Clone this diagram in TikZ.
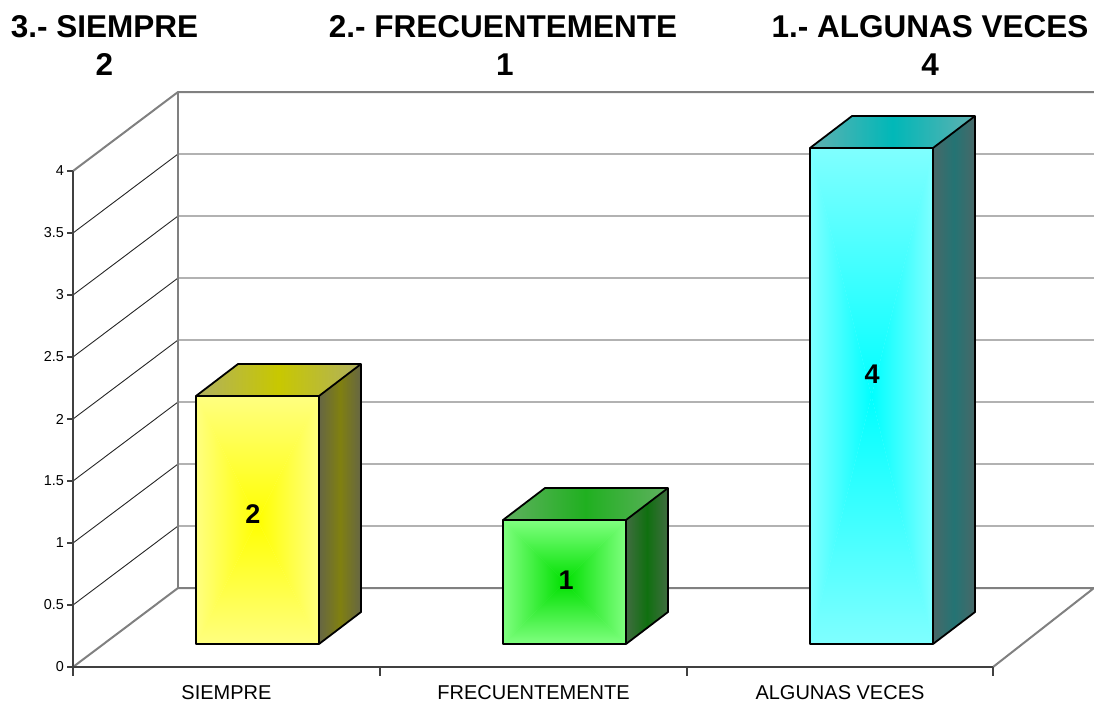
\documentclass[tikz,border=0pt]{standalone}
\usepackage{fontspec}
\setmainfont{Liberation Sans}

\definecolor{amFo}{RGB}{255,255,128}
\definecolor{amFi}{RGB}{255,255,0}
\definecolor{amTo}{RGB}{176,176,96}
\definecolor{amTi}{RGB}{200,200,0}
\definecolor{amSo}{RGB}{102,102,68}
\definecolor{amSi}{RGB}{128,128,16}
\definecolor{veFo}{RGB}{128,255,128}
\definecolor{veFi}{RGB}{0,224,0}
\definecolor{veTo}{RGB}{96,176,96}
\definecolor{veTi}{RGB}{32,176,32}
\definecolor{veSo}{RGB}{64,108,64}
\definecolor{veSi}{RGB}{16,112,16}
\definecolor{ciFo}{RGB}{128,255,255}
\definecolor{ciFi}{RGB}{0,255,255}
\definecolor{ciTo}{RGB}{96,176,176}
\definecolor{ciTi}{RGB}{0,184,184}
\definecolor{ciSo}{RGB}{72,104,104}
\definecolor{ciSi}{RGB}{36,116,116}

\begin{document}
\begin{tikzpicture}[x=1pt, y=-1pt, line join=round]
  \tikzstyle{wall}=[draw=gray, line width=2pt]
  \tikzstyle{gridline}=[draw=black!85, line width=0.9pt]
  \tikzstyle{axis}=[draw=black!75, line width=2pt]
  \tikzstyle{barline}=[draw=black, line width=1.8pt]
  \tikzstyle{title}=[inner sep=0pt, anchor=base, font=\fontsize{31.5}{38}\selectfont\bfseries]
  \tikzstyle{vlab}=[inner sep=0pt, font=\fontsize{27}{32}\selectfont\bfseries]
  \tikzstyle{ylab}=[inner sep=0pt, anchor=east, font=\fontsize{14.4}{17}\selectfont]
  \tikzstyle{xlab}=[inner sep=0pt, anchor=base, font=\fontsize{20}{24}\selectfont]

  \useasboundingbox (0,0) rectangle (1094,702);

  % walls and grid
  \foreach \k in {1,...,7}
    \draw[gridline] (73,{667-62*\k}) -- (178,{588-62*\k}) -- (1094,{588-62*\k});
  \draw[wall] (73,171) -- (178,92) -- (1094,92);
  \draw[wall] (178,92) -- (178,588);
  \draw[wall] (73,667) -- (178,588) -- (1094,588) -- (993,667);

  % axes
  \draw[axis] (73,171) -- (73,667) -- (993,667);
  \foreach \k/\t in {0/0,1/0.5,2/1,3/1.5,4/2,5/2.5,6/3,7/3.5,8/4} {
    \draw[axis, line width=1.2pt] (67,{667-62*\k}) -- (73,{667-62*\k});
    \node[ylab] (y\k) at (64,{667-62*\k}) {\t};
  }
  \foreach \x in {73,380,687,993}
    \draw[axis, line width=1.2pt] (\x,667) -- (\x,676);

  % bars
  \foreach \xl/\val/\col/\lx/\ly in {196/2/am/253/514, 503/1/ve/566/580, 810/4/ci/872/374} {
    \colorlet{fo}{\col Fo}\colorlet{fi}{\col Fi}
    \colorlet{to}{\col To}\colorlet{ti}{\col Ti}
    \colorlet{so}{\col So}\colorlet{si}{\col Si}
    \pgfmathsetmacro\yt{644-124*\val}
    \pgfmathsetmacro\xr{\xl+123}
    \pgfmathsetmacro\xm{\xl+61.5}
    \pgfmathsetmacro\ym{(644+\yt)/2}
    % front
    \fill[fill=fo] (\xl,\yt) rectangle (\xr,644);
    \shade[top color=fo, bottom color=fi] (\xl,\yt) -- (\xr,\yt) -- (\xm,\ym) -- cycle;
    \shade[top color=fi, bottom color=fo] (\xl,644) -- (\xr,644) -- (\xm,\ym) -- cycle;
    \shade[left color=fo, right color=fi] (\xl,\yt) -- (\xl,644) -- (\xm,\ym) -- cycle;
    \shade[left color=fi, right color=fo] (\xr,\yt) -- (\xr,644) -- (\xm,\ym) -- cycle;
    % top and side
    \shade[left color=to, right color=to, middle color=ti]
      (\xl,\yt) -- ++(42,-32) -- ++(123,0) -- (\xr,\yt) -- cycle;
    \shade[left color=so, right color=so, middle color=si]
      (\xr,\yt) -- ++(42,-32) -- ({\xr+42},612) -- (\xr,644) -- cycle;
    \draw[barline] (\xl,\yt) rectangle (\xr,644);
    \draw[barline] (\xl,\yt) -- ++(42,-32) -- ++(123,0) -- ({\xr+42},612) -- (\xr,644);
    \draw[barline] (\xr,\yt) -- ++(42,-32);
    \node[vlab] (v\col) at (\lx,\ly) {\val};
  }

  % category labels
  \node[xlab] (siempre) at (226.5,699) {SIEMPRE};
  \node[xlab] (frecuente) at (533.5,699) {FRECUENTEMENTE};
  \node[xlab] (algunas) at (840,699) {ALGUNAS VECES};

  % titles
  \node[title] (t3) at (104.5,37) {3.- SIEMPRE};
  \node[title] (n3) at (104.5,75) {2};
  \node[title] (t2) at (503,37) {2.- FRECUENTEMENTE};
  \node[title] (n2) at (505,75) {1};
  \node[title] (t1) at (930,37) {1.- ALGUNAS VECES};
  \node[title] (n1) at (930,75) {4};
\end{tikzpicture}
\end{document}
